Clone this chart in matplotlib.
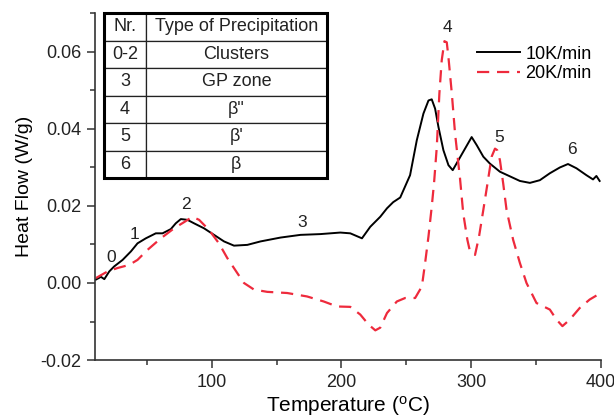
import matplotlib
matplotlib.use("Agg")
import matplotlib.pyplot as plt
from matplotlib.ticker import MultipleLocator, FormatStrFormatter
from matplotlib.patches import Rectangle

plt.rcParams['font.family'] = ['Liberation Sans', 'DejaVu Sans']

# DSC scan at 10 K/min
t10 = [10.8, 14.6, 17.2, 21.0, 24.8, 31.3, 37.7, 42.8, 49.2, 56.9, 62.1, 68.5, 72.3,
       76.2, 81.3, 86.4, 94.1, 101.8, 109.5, 117.2, 127.5, 137.7, 153.1, 168.5, 183.8,
       199.2, 206.9, 215.9, 222.3, 230.0, 235.2, 240.0, 245.4, 253.0, 258.2, 263.3,
       267.2, 269.7, 272.3, 274.9, 278.7, 282.6, 285.9, 290.3, 295.4, 300.5, 304.4,
       309.5, 314.6, 322.3, 330.0, 337.7, 345.4, 353.1, 360.8, 368.5, 374.8, 381.3,
       389.0, 394.1, 396.7, 399.2]
hf10 = [0.0009, 0.0016, 0.0010, 0.0030, 0.0043, 0.0060, 0.0082, 0.0103, 0.0116, 0.0129,
        0.0129, 0.0140, 0.0155, 0.0166, 0.0164, 0.0155, 0.0142, 0.0125, 0.0108, 0.0097,
        0.0099, 0.0108, 0.0118, 0.0125, 0.0127, 0.0131, 0.0129, 0.0116, 0.0146, 0.0172,
        0.0194, 0.0210, 0.0222, 0.0280, 0.0371, 0.0440, 0.0474, 0.0477, 0.0453, 0.0405,
        0.0345, 0.0306, 0.0293, 0.0319, 0.0349, 0.0379, 0.0358, 0.0328, 0.0310, 0.0289,
        0.0277, 0.0265, 0.0260, 0.0267, 0.0285, 0.0300, 0.0309, 0.0298, 0.0280, 0.0269,
        0.0278, 0.0265]

# DSC scan at 20 K/min
t20 = [10.8, 19.7, 27.5, 36.4, 42.8, 50.5, 60.8, 71.0, 78.7, 85.2, 90.3, 97.9, 105.6,
       112.0, 119.7, 124.9, 132.6, 142.8, 158.2, 173.6, 186.4, 196.7, 206.9, 214.6,
       221.0, 226.2, 230.0, 235.2, 242.8, 249.2, 256.9, 262.1, 264.6, 267.2, 269.7,
       271.5, 273.6, 275.6, 277.4, 279.5, 281.3, 282.6, 285.2, 287.7, 291.5, 294.0,
       297.2, 299.2, 303.1, 306.2, 309.5, 312.5, 315.9, 318.5, 320.2, 322.3, 324.8,
       327.4, 332.5, 337.7, 342.8, 350.5, 360.8, 365.9, 370.5, 376.2, 383.8, 391.5,
       400.0]
hf20 = [0.0013, 0.0030, 0.0039, 0.0047, 0.0060, 0.0086, 0.0116, 0.0142, 0.0158, 0.0172,
        0.0164, 0.0138, 0.0103, 0.0065, 0.0026, 0.0000, -0.0017, -0.0023, -0.0026,
        -0.0035, -0.0048, -0.0061, -0.0062, -0.0082, -0.0108, -0.0123, -0.0116, -0.0078,
        -0.0048, -0.0039, -0.0039, -0.0009, 0.0052, 0.0121, 0.0198, 0.0260, 0.0353,
        0.0492, 0.0578, 0.0628, 0.0625, 0.0586, 0.0492, 0.0388, 0.0272, 0.0181, 0.0112,
        0.0082, 0.0073, 0.0121, 0.0190, 0.0254, 0.0328, 0.0349, 0.0345, 0.0319, 0.0259,
        0.0190, 0.0112, 0.0052, 0.0000, -0.0052, -0.0069, -0.0095, -0.0112, -0.0095,
        -0.0065, -0.0043, -0.0026]

series_labels = ['10K/min', '20K/min']

# Peak markers
peak_ids = ['0', '1', '2', '3', '4', '5', '6']
peak_t = [22.3, 40.8, 80.0, 169.8, 282.0, 321.5, 377.5]
peak_hf = [0.0065, 0.0125, 0.0203, 0.0157, 0.0664, 0.0379, 0.0347]

# Precipitation sequence table
table_header = ['Nr.', 'Type of Precipitation']
table_nr = ['0-2', '3', '4', '5', '6']
table_type = ['Clusters', 'GP zone', 'β"', "β'", 'β']

fig = plt.figure(figsize=(6.14, 4.19), dpi=100)
ax = fig.add_axes([0.1547, 0.1408, 0.8236, 0.8289])

red = '#ee2a3c'
ax.plot(t10, hf10, color='black', lw=1.4, label=series_labels[0])
ax.plot(t20, hf20, color=red, lw=1.6, dashes=(5.5, 3.5), label=series_labels[1])

for pid, px, py in zip(peak_ids, peak_t, peak_hf):
    ax.text(px, py, pid, fontsize=12.5, ha='center', va='center', color='#222222')

ax.set_xlim(10, 400)
ax.set_ylim(-0.02, 0.0702)
ax.xaxis.set_major_locator(MultipleLocator(100))
ax.xaxis.set_minor_locator(MultipleLocator(50))
ax.yaxis.set_major_locator(MultipleLocator(0.02))
ax.yaxis.set_minor_locator(MultipleLocator(0.01))
ax.yaxis.set_major_formatter(FormatStrFormatter('%.2f'))

for side in ('top', 'right'):
    ax.spines[side].set_visible(False)
for side in ('left', 'bottom'):
    ax.spines[side].set_linewidth(1.2)
    ax.spines[side].set_color('#333333')
ax.tick_params(which='major', direction='out', length=6, width=1.1, labelsize=13,
               colors='#333333', labelcolor='#222222', pad=4)
ax.tick_params(which='minor', direction='out', length=3.5, width=1.1, colors='#333333')

ax.set_xlabel('Temperature ($\\mathregular{^{o}}$C)', fontsize=15, labelpad=2)
ax.set_ylabel('Heat Flow (W/g)', fontsize=14, labelpad=5)

leg = ax.legend(loc='upper right', bbox_to_anchor=(0.982, 0.905), frameon=False,
                fontsize=13, handlelength=2.4, handletextpad=0.3, labelspacing=0.14,
                borderpad=0, borderaxespad=0)

# Table of precipitation types
cell_text = [[n, t] for n, t in zip(table_nr, table_type)]
tbl = ax.table(cellText=cell_text, colLabels=table_header, cellLoc='center',
               colWidths=[0.083, 0.357], bbox=[0.0178, 0.524, 0.4404, 0.4744])
tbl.auto_set_font_size(False)
tbl.set_fontsize(13)
for (r, c), cell in tbl.get_celld().items():
    cell.set_linewidth(0.9)
    cell.set_edgecolor('#222222')
    cell.get_text().set_color('#222222')
ax.add_patch(Rectangle((0.0178, 0.524), 0.4404, 0.4744, transform=ax.transAxes,
                       fill=False, lw=2.2, ec='black', zorder=10, clip_on=False))

fig.savefig('out.png', dpi=100)
